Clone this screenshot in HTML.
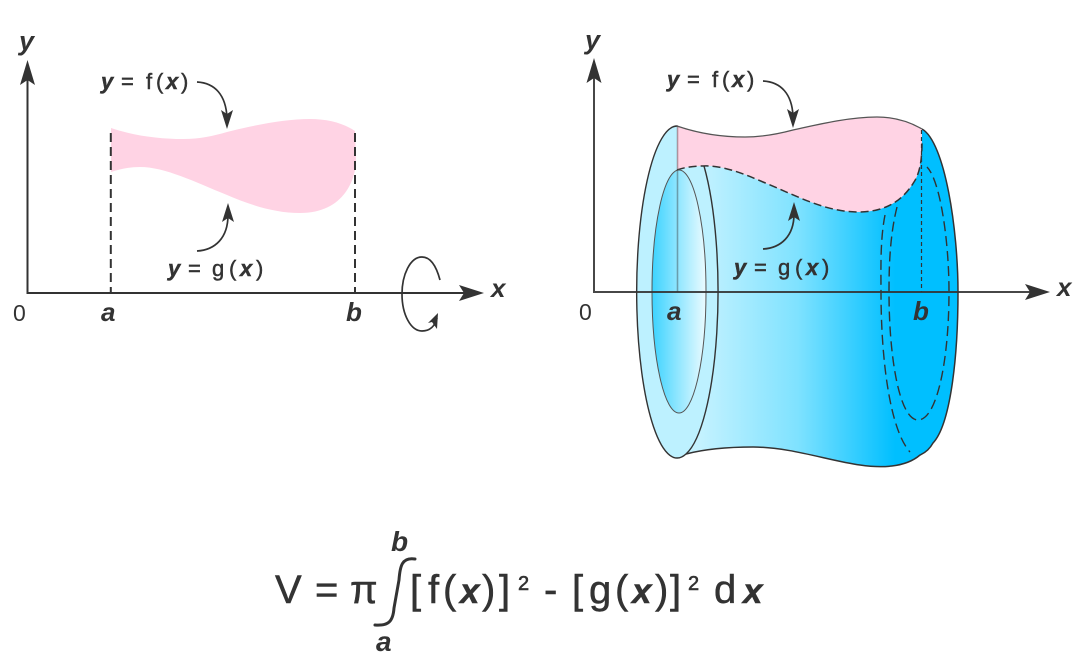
<!DOCTYPE html>
<html><head><meta charset="utf-8"><style>
html,body{margin:0;padding:0;background:#fff}
svg{display:block}
text{font-family:"Liberation Sans",sans-serif;fill:#333}
.i{font-style:italic;font-weight:bold}
.l{font-size:22px;stroke:#333;stroke-width:.45}
.f{font-size:40px;stroke:#333;stroke-width:.5}
.fx{font-size:35px;font-style:italic;font-weight:bold}
.v{font-size:26px;font-style:italic;font-weight:bold}
.n{font-size:23px}
.s{font-size:20px;stroke:#333;stroke-width:.6}
</style></head><body>
<svg width="1080" height="660" viewBox="0 0 1080 660" xmlns="http://www.w3.org/2000/svg">
<defs>
<linearGradient id="body" gradientUnits="userSpaceOnUse" x1="700" y1="0" x2="895" y2="0">
<stop offset="0" stop-color="#c4f2ff"/><stop offset=".5" stop-color="#7fe2ff"/><stop offset="1" stop-color="#00bfff"/>
</linearGradient>
<linearGradient id="hole" gradientUnits="userSpaceOnUse" x1="652" y1="0" x2="706" y2="0">
<stop offset="0" stop-color="#3cd3ff"/><stop offset="1" stop-color="#ebfbff"/>
</linearGradient>
</defs>

<!-- left diagram -->
<path d="M111,128 C135,136 160,139 183,139 C200,139 213,136 227,132 C255,125 285,119 310,119 C328,119 343,123 355,131 L356,160 C356,178 345,213 300,213 C275,213 250,205 227,195 C195,182 165,167 140,167 C130,167 120,169 111,172 Z" fill="#ffd3e4"/>
<g stroke="#333" stroke-width="2" fill="none">
<path d="M27.500,80 V293 H470"/>
<path d="M110.800,133 V293 M355,133 V293" stroke-dasharray="9 5"/>
</g>
<path d="M27.500,60 L35,85 L27.500,80 L20,85 Z M484,293 L459,285 L464,293 L459,301 Z" fill="#333"/>
<g stroke="#333" stroke-width="1.700" fill="none">
<path d="M197,82 C215,83 226,95 227,118"/>
<path d="M197,251 C215,250 228,238 228,215"/>
<path d="M440,280 C436,265 430,257 422,257 C410,257 402,275 402,294 C402,315 411,331 422,331 C430,331 435,326 437,318"/>
</g>
<path d="M227,129 L221,110 L227,114 L233,110 Z M228,203 L222,222 L228,218 L234,222 Z M438,313 L437,329 L432,322 L428,323 Z" fill="#333"/>
<text class="v" x="19" y="50" style="font-size:27px">y</text>
<text class="n" x="13" y="321">0</text>
<text class="v" x="101" y="321">a</text>
<text class="v" x="346" y="321">b</text>
<text class="v" x="491" y="297">x</text>
<text class="l" x="101" y="89"><tspan class="i">y</tspan></text>
<text class="l" x="121" y="89">=</text>
<text class="l" x="146" y="89">f</text>
<text class="l" x="156" y="89">(</text>
<text class="l" x="166" y="89"><tspan class="i">x</tspan></text>
<text class="l" x="181" y="89">)</text>
<text class="l" x="168" y="276"><tspan class="i">y</tspan></text>
<text class="l" x="188" y="276">=</text>
<text class="l" x="212" y="276">g</text>
<text class="l" x="229" y="276">(</text>
<text class="l" x="240" y="276"><tspan class="i">x</tspan></text>
<text class="l" x="256" y="276">)</text>

<!-- right diagram: solid -->
<path d="M677,126 C700,134 725,137 745,137 C760,137 778,134 793,130 C820,124 850,117 877,117 C895,117 910,122 922,129 C945,142 958,230 958,292 C958,360 950,425 933,443 C928,452 922,454 920,455 C905,468 880,468 860,465 C830,461 790,447 753,447 C725,447 705,449 686,454 L677,458 Z" fill="url(#body)"/>
<path d="M922,129 C945,142 958,230 958,292 C958,360 950,425 933,443 C928,452 922,454 920,455 C905,468 880,468 860,465 C830,461 790,447 753,447 C725,447 705,449 686,454" fill="none" stroke="#333" stroke-width="1.500"/>
<ellipse cx="677.500" cy="292" rx="40.500" ry="166" fill="#bdf1ff"/>
<path d="M677,126 C700,134 725,137 745,137 C760,137 778,134 793,130 C820,124 850,117 877,117 C895,117 910,122 922,129 C922,150 922,170 914,182 C900,205 880,212 858,212 C825,212 795,195 763,182 C740,172 720,165 703,166 C695,166 685,167 677,170 Z" fill="#ffd3e4"/>
<path d="M677,126 C700,134 725,137 745,137 C760,137 778,134 793,130 C820,124 850,117 877,117 C895,117 910,122 922,129" fill="none" stroke="#555" stroke-width="1.300"/>
<path d="M677,170 C685,167 695,166 703,166 C720,165 740,172 763,182 C795,195 825,212 858,212 C880,212 900,205 914,182 C922,170 922,150 922,140" fill="none" stroke="#333" stroke-width="1.500" stroke-dasharray="8 4"/>
<path d="M677.500,126 A40.500,166 0 1 0 686,454 A40.500,166 0 0 0 704,166" fill="none" stroke="#333" stroke-width="1.400"/>
<ellipse cx="679" cy="291.500" rx="27" ry="121.500" fill="url(#hole)" stroke="#555" stroke-width="1"/>
<path d="M677.500,127 V292" stroke="#333" stroke-opacity=".4" stroke-width="1.600"/>

<g fill="none" stroke="#333">
<path d="M885,215 C880,240 881,270 881,292 C881,360 890,430 910,452" stroke-width="1.400" stroke-dasharray="10 5"/>
<path d="M897,207 C890,235 889,265 889,292 C889,360 900,420 918,420 C937,420 949,360 949,292 C949,240 940,180 927,167" stroke-width="1.400" stroke-dasharray="10 5"/>
<path d="M921.500,130 V292" stroke-width="1.200" stroke-dasharray="4 3"/>
</g>

<path d="M594,78 V292 H1035" stroke="#333" stroke-width="2" fill="none" stroke-opacity=".9"/>
<path d="M594,58 L601.500,83 L594,78 L586.500,83 Z M1050,292 L1025,284 L1030,292 L1025,300 Z" fill="#333"/>
<g stroke="#333" stroke-width="1.700" fill="none">
<path d="M763,81 C781,82 792,94 793,116"/>
<path d="M763,249 C781,248 794,236 794,214"/>
</g>
<path d="M793,128 L787,109 L793,113 L799,109 Z M794,202 L788,221 L794,217 L800,221 Z" fill="#333"/>
<text class="v" x="585" y="49" style="font-size:27px">y</text>
<text class="n" x="579" y="320">0</text>
<text class="v" x="667" y="320">a</text>
<text class="v" x="913" y="320">b</text>
<text class="v" x="1057" y="296">x</text>
<text class="l" x="667" y="87"><tspan class="i">y</tspan></text>
<text class="l" x="687" y="87">=</text>
<text class="l" x="712" y="87">f</text>
<text class="l" x="722" y="87">(</text>
<text class="l" x="732" y="87"><tspan class="i">x</tspan></text>
<text class="l" x="747" y="87">)</text>
<text class="l" x="734" y="275"><tspan class="i">y</tspan></text>
<text class="l" x="754" y="275">=</text>
<text class="l" x="778" y="275">g</text>
<text class="l" x="795" y="275">(</text>
<text class="l" x="806" y="275"><tspan class="i">x</tspan></text>
<text class="l" x="822" y="275">)</text>

<!-- formula -->
<text class="f" x="275" y="603">V</text>
<text class="f" x="315" y="603">=</text>
<text class="f" x="350" y="603">π</text>
<path d="M415,559 C402,557 400,566 399,580 L394,608 C393,622 388,626 375,625" fill="none" stroke="#333" stroke-width="3" stroke-linecap="round"/>
<text class="v" x="391" y="551" style="font-size:28px">b</text>
<text class="v" x="376" y="651" style="font-size:28px">a</text>
<text class="f" x="410" y="603">[</text>
<text class="f" x="428" y="603">f</text>
<text class="f" x="443" y="603">(</text>
<text class="f fx" x="460" y="603">x</text>
<text class="f" x="482" y="603">)</text>
<text class="f" x="499" y="603">]</text>
<text class="s" x="518" y="590">2</text>
<text class="f" x="544" y="603">-</text>
<text class="f" x="572" y="603">[</text>
<text class="f" x="589" y="603">g</text>
<text class="f" x="615" y="603">(</text>
<text class="f fx" x="632" y="603">x</text>
<text class="f" x="655" y="603">)</text>
<text class="f" x="670" y="603">]</text>
<text class="s" x="688" y="590">2</text>
<text class="f" x="714" y="603">d</text>
<text class="f fx" x="743" y="603">x</text>
</svg>
</body></html>
